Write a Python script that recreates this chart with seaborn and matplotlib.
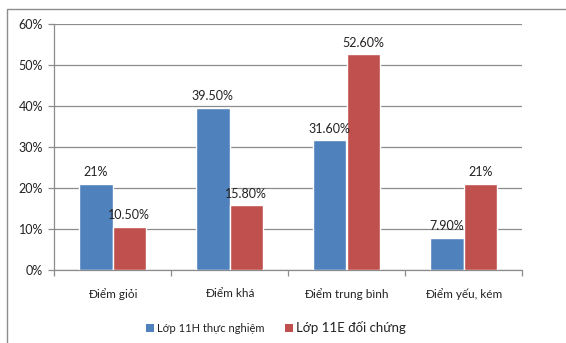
import matplotlib
matplotlib.use("Agg")
import matplotlib.pyplot as plt
from matplotlib.patches import Rectangle, Patch
from matplotlib.ticker import PercentFormatter
import pandas as pd
import seaborn as sns

categories = ["Điểm giỏi", "Điểm khá", "Điểm trung bình", "Điểm yếu, kém"]
series_names = ["Lớp 11H thực nghiệm", "Lớp 11E đối chứng"]
values_11h = [21.0, 39.5, 31.6, 7.9]
values_11e = [10.5, 15.8, 52.6, 21.0]
labels_11h = ["21%", "39.50%", "31.60%", "7.90%"]
labels_11e = ["10.50%", "15.80%", "52.60%", "21%"]
y_ticks = [0, 10, 20, 30, 40, 50, 60]

colors = ["#4F81BD", "#C0504D"]

df = pd.DataFrame({
    "category": categories * 2,
    "series": [series_names[0]] * 4 + [series_names[1]] * 4,
    "value": values_11h + values_11e,
})

sns.set_theme(style="white")
plt.rcParams["font.family"] = ["Lato", "DejaVu Sans"]

fig = plt.figure(figsize=(5.66, 3.43), dpi=100)
ax = fig.add_axes([54 / 566, 1 - 270 / 343, 468 / 566, 246 / 343])

sns.barplot(data=df, x="category", y="value", hue="series", order=categories,
            hue_order=series_names, palette=colors, width=0.575, saturation=1,
            ax=ax, legend=False, zorder=3)

for container, labels in zip(ax.containers, [labels_11h, labels_11e]):
    ax.bar_label(container, labels=labels, padding=4, fontsize=9, color="#222222")

ax.set_ylim(0, 60)
ax.set_xlim(-0.5, 3.5)
ax.set_yticks(y_ticks)
ax.yaxis.set_major_formatter(PercentFormatter(decimals=0))
ax.yaxis.grid(True, color="#8c8c8c", linewidth=0.9, zorder=0)
ax.set_axisbelow(True)
ax.set_xlabel("")
ax.set_ylabel("")

for side in ["top", "right"]:
    ax.spines[side].set_visible(False)
for side in ["left", "bottom"]:
    ax.spines[side].set_color("#8c8c8c")
    ax.spines[side].set_linewidth(0.9)

ax.tick_params(axis="y", which="major", left=True, length=4, width=0.9,
               color="#8c8c8c", labelsize=9, labelcolor="#222222", pad=4)
# category separators on the x axis
ax.set_xticks([-0.5, 0.5, 1.5, 2.5, 3.5], minor=True)
ax.tick_params(axis="x", which="minor", bottom=True, length=4, width=0.9,
               color="#8c8c8c")
ax.tick_params(axis="x", which="major", bottom=False, labelsize=8.5,
               labelcolor="#222222", pad=7)

# legend with differently sized entries
handles = [Patch(facecolor=c, edgecolor="none") for c in colors]
leg = fig.legend(handles, series_names, loc="center", bbox_to_anchor=(276 / 566, 1 - 327 / 343),
                 ncol=2, frameon=False, handlelength=0.75, handleheight=0.75,
                 handletextpad=0.3, columnspacing=1.8, fontsize=8)
texts = leg.get_texts()
texts[0].set_fontsize(8)
texts[1].set_fontsize(9.5)
for t in texts:
    t.set_color("#222222")

# outer chart frame
fig.patches.append(Rectangle((7 / 566, -0.05), 1.1, 1 - 9 / 343 + 0.05,
                             transform=fig.transFigure, fill=False,
                             edgecolor="#8c8c8c", linewidth=1.0))

fig.savefig("out.png", dpi=100)
